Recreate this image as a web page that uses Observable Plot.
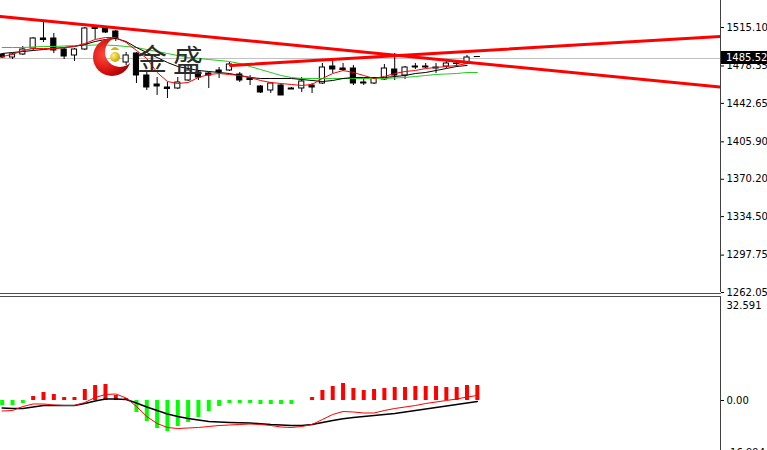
<!DOCTYPE html>
<html><head><meta charset="utf-8">
<script src="https://cdn.jsdelivr.net/npm/d3@7"></script>
<script src="https://cdn.jsdelivr.net/npm/@observablehq/plot@0.6"></script>
<style>
html,body{margin:0;padding:0;background:#fff;overflow:hidden;width:767px;height:450px}
#wrap{position:relative;width:767px;height:450px;overflow:hidden;background:#fff}
#wrap > *{position:absolute;left:0}
</style></head><body><div id="wrap"></div>
<script>
// ---- price panel data (candle index -1 .. 45) ----
const firstIndex = -1;
const candleOpen  = [1489.32,1486.45,1489.32,1495.05,1504.60,1504.60,1494.09,1488.36,1494.09,1515.58,1514.15,1511.28,1481.68,1490.27,1469.26,1460.67,1457.81,1456.85,1464.49,1472.13,1471.17,1474.04,1474.04,1470.22,1466.40,1458.76,1454.94,1459.72,1456.85,1456.85,1459.72,1461.62,1477.86,1475.95,1475.95,1462.58,1461.62,1465.44,1474.99,1469.26,1477.86,1477.86,1476.90,1477.86,1480.25,1480.72,1487.41];
const candleHigh  = [1490.27,1490.27,1496.96,1505.55,1519.87,1509.37,1495.05,1495.05,1515.10,1516.05,1515.10,1512.23,1491.23,1491.23,1472.13,1467.35,1462.58,1467.35,1478.81,1474.04,1472.13,1476.90,1481.68,1472.13,1469.26,1459.72,1462.58,1460.67,1457.81,1467.35,1461.62,1480.72,1483.59,1480.72,1478.81,1466.40,1467.35,1479.77,1490.27,1477.86,1480.72,1480.72,1480.72,1482.63,1482.63,1488.36,1487.41];
const candleLow   = [1485.50,1484.54,1488.36,1493.14,1500.78,1490.27,1484.54,1482.63,1493.14,1503.64,1509.37,1501.73,1478.81,1461.62,1454.94,1450.17,1447.30,1455.90,1463.53,1464.49,1456.85,1466.40,1473.08,1462.58,1459.72,1452.08,1452.08,1450.17,1455.90,1453.03,1452.08,1460.67,1471.17,1473.08,1459.72,1459.72,1460.67,1464.49,1464.49,1465.44,1474.99,1475.95,1471.17,1475.95,1476.90,1480.25,1487.41];
const candleClose = [1486.45,1489.32,1494.09,1504.60,1503.64,1493.14,1487.41,1494.09,1514.15,1513.67,1510.33,1504.60,1488.36,1469.26,1457.81,1458.76,1456.85,1462.58,1474.04,1467.35,1469.26,1473.08,1479.77,1464.49,1465.44,1453.03,1461.62,1450.17,1456.37,1463.53,1457.81,1476.90,1474.99,1474.99,1461.62,1462.10,1466.40,1475.95,1469.26,1476.90,1477.38,1477.38,1476.43,1480.72,1480.72,1486.45,1487.41];

// moving averages (start at index -1)
const maRed   = [1487.41,1489.32,1493.14,1495.05,1495.05,1495.05,1496.00,1496.96,1499.82,1503.64,1505.55,1505.55,1500.78,1493.14,1485.50,1472.13,1463.53,1461.62,1462.58,1467.35,1470.22,1471.17,1470.22,1469.26,1467.35,1464.49,1462.58,1461.62,1460.67,1459.72,1460.67,1466.40,1471.17,1474.04,1472.13,1469.26,1466.40,1468.31,1471.17,1473.08,1474.04,1475.95,1476.90,1477.86,1478.81,1480.72];
const maGreen = [1496.00,1496.00,1496.00,1496.48,1496.96,1496.96,1497.43,1497.91,1497.91,1498.39,1498.39,1497.91,1496.96,1496.00,1494.09,1492.18,1490.27,1488.36,1486.45,1485.50,1484.54,1483.59,1482.63,1480.72,1477.86,1474.99,1472.13,1469.26,1467.35,1466.40,1466.40,1466.40,1466.40,1466.40,1466.40,1466.40,1466.40,1466.40,1466.88,1467.35,1468.31,1469.26,1470.22,1470.70,1471.17,1472.13,1472.13];
const maBlack = [1490.27,1491.23,1492.18,1493.14,1494.09,1495.05,1496.00,1496.96,1498.87,1501.73,1503.64,1504.60,1501.73,1496.00,1491.23,1486.45,1481.68,1477.86,1475.95,1474.04,1473.08,1472.13,1471.17,1469.26,1467.35,1466.40,1466.40,1466.40,1466.40,1465.44,1464.49,1463.53,1464.49,1466.40,1467.35,1467.35,1467.35,1467.35,1468.31,1469.26,1471.17,1472.13,1474.04,1475.95,1477.86,1478.81];

// trend lines (index, price)
const trendDown = [{i:-1.16, p:1525.60}, {i:68.54, p:1458.28}];
const trendUp   = [{i:21.10, p:1478.81}, {i:68.54, p:1506.51}];

const bidPrice = 1485.52;
const priceTicks = [1515.10, 1478.35, 1442.65, 1405.90, 1370.20, 1334.50, 1297.75, 1262.05];

// ---- MACD panel data (index -1 .. 45) ----
const macdHist  = [-1.63,-1.63,-0.98,1.30,2.61,1.96,0.98,0.98,3.59,4.89,5.21,1.63,0.65,-3.91,-6.84,-9.13,-10.10,-8.47,-7.17,-5.54,-3.59,-1.96,-0.98,-0.98,-0.98,-1.30,-1.30,-1.30,-1.30,0,0.98,3.26,4.56,5.54,3.91,3.26,3.59,3.91,4.24,4.24,4.56,4.56,4.56,4.24,4.24,4.89,4.89];
const macdBlack = [-2.44,-2.61,-2.61,-2.12,-1.63,-1.63,-1.63,-1.63,-0.98,-0.16,0.49,0.49,0.33,-0.81,-2.12,-3.26,-4.40,-5.21,-5.87,-6.36,-6.84,-7.01,-7.17,-7.27,-7.33,-7.56,-7.82,-7.98,-8.15,-8.15,-7.82,-7.17,-6.52,-5.96,-5.54,-5.21,-4.89,-4.56,-4.24,-3.75,-3.26,-2.77,-2.28,-1.79,-1.30,-0.81,-0.33];
const macdRed   = [-3.42,-3.26,-1.96,-1.14,-1.14,-1.47,-1.63,-1.63,-0.65,0.98,1.96,2.12,0.81,-1.96,-5.21,-7.50,-8.80,-9.13,-8.96,-8.80,-8.47,-8.15,-7.98,-7.82,-7.66,-7.82,-8.15,-8.64,-8.80,-8.47,-7.82,-6.19,-4.56,-3.59,-3.75,-4.07,-4.07,-3.26,-2.61,-2.12,-1.63,-0.98,-0.49,0,0.49,1.14,1.63];
const macdTop = 32.591, macdBottom = -16.994;

// ---- layout ----
const W = 767, AXW = 47;
const xDomain = [-1.1617, 68.538];
const font = "'DejaVu Sans', sans-serif";

const candles = candleOpen.map((o, k) => ({i: k + firstIndex, o, h: candleHigh[k], l: candleLow[k], c: candleClose[k]}));
const series = (arr, start) => arr.map((v, k) => ({i: k + start, v}));

const wrap = document.getElementById("wrap");

const main = Plot.plot({
  width: W, height: 293,
  marginLeft: 0, marginRight: AXW, marginTop: 0, marginBottom: 1,
  style: {fontFamily: font, fontSize: "10px", color: "#000", background: "#fff", overflow: "visible"},
  x: {domain: xDomain, axis: null},
  y: {domain: [1262.05, 1540.88], label: null},
  marks: [
    Plot.ruleY([bidPrice], {stroke: "#c0c0c0"}),
    Plot.ruleX(candles, {x: "i", y1: "l", y2: "h", stroke: "#000"}),
    Plot.rect(candles, {x1: d => d.i - 0.25, x2: d => d.i + 0.25, y1: "o", y2: "c",
      fill: d => d.c > d.o ? "#ffffff" : "#000000", stroke: "#000"}),
    Plot.ruleY(candles.filter(d => Math.abs(d.c - d.o) < 1), {y: "c", x1: d => d.i - 0.3, x2: d => d.i + 0.3, stroke: "#000"}),
    Plot.line(series(maGreen, -1), {x: "i", y: "v", stroke: "#22cc22", strokeWidth: 1}),
    Plot.line(series(maBlack, -1), {x: "i", y: "v", stroke: "#000", strokeWidth: 1}),
    Plot.line(series(maRed, -1), {x: "i", y: "v", stroke: "#ff0000", strokeWidth: 1}),
    Plot.line(trendDown, {x: "i", y: "p", stroke: "#ff0000", strokeWidth: 3, clip: true}),
    Plot.line(trendUp, {x: "i", y: "p", stroke: "#ff0000", strokeWidth: 3, clip: true}),
    Plot.ruleX([xDomain[1]], {stroke: "#404040"}),
    Plot.axisY(priceTicks, {anchor: "right", label: null, tickSize: 3, tickPadding: 3, tickFormat: d => d.toFixed(2)})
  ]
});

// current price box
{
  const yb = main.scale("y").apply(bidPrice);
  const xb = W - AXW + 1;
  const s = d3.select(main);
  s.append("rect").attr("x", xb).attr("y", yb - 7).attr("width", AXW - 1).attr("height", 13).attr("fill", "#000");
  s.append("text").attr("x", xb + 5).attr("y", yb).attr("dy", "0.35em").attr("fill", "#fff")
    .attr("text-anchor", "start").attr("font-family", font).attr("font-size", 10).text(bidPrice.toFixed(2));
}

const sub = Plot.plot({
  width: W, height: 163,
  marginLeft: 0, marginRight: AXW, marginTop: 0, marginBottom: 0,
  style: {fontFamily: font, fontSize: "10px", color: "#000", background: "transparent", overflow: "visible"},
  x: {domain: xDomain, axis: null},
  y: {domain: [-19.555, 33.569], label: null},
  marks: [
    Plot.ruleX(series(macdHist, -1), {x: "i", y1: 0, y2: "v", stroke: d => d.v >= 0 ? "#ff0000" : "#00ff00", strokeWidth: 4}),
    Plot.line(series(macdBlack, -1), {x: "i", y: "v", stroke: "#000", strokeWidth: 1.5}),
    Plot.line(series(macdRed, -1), {x: "i", y: "v", stroke: "#ff0000", strokeWidth: 1}),
    Plot.ruleX([xDomain[1]], {stroke: "#404040"}),
    Plot.axisY([0, macdBottom], {anchor: "right", label: null, tickSize: 3, tickPadding: 3, tickFormat: d => d === 0 ? "0.00" : d.toFixed(3)}),
    Plot.axisY([macdTop], {anchor: "right", label: null, tickSize: 0, tickPadding: 6, dy: 5, tickFormat: d => d.toFixed(3)})
  ]
});

sub.style.top = "297px"; sub.style.zIndex = 1;
main.style.top = "0px"; main.style.zIndex = 2;
wrap.appendChild(sub);
wrap.appendChild(main);

const sep = document.createElement("div");
sep.style.cssText = `top:293px;width:${W - AXW + 1}px;height:2px;border-top:1px solid #505050;border-bottom:1px solid #505050;z-index:3`;
wrap.appendChild(sep);

// watermark logo
const logo = document.createElementNS("http://www.w3.org/2000/svg", "svg");
logo.setAttribute("width", 767); logo.setAttribute("height", 293);
logo.style.cssText = "top:0;z-index:4;pointer-events:none;overflow:visible";
logo.innerHTML = `
<defs>
  <radialGradient id="rg" cx="0.3" cy="0.45" r="0.75">
    <stop offset="0" stop-color="#ff4a3a"/><stop offset="0.6" stop-color="#d40f0f"/><stop offset="1" stop-color="#8e0000"/>
  </radialGradient>
  <radialGradient id="gg" cx="0.35" cy="0.35" r="0.7">
    <stop offset="0" stop-color="#fff27a"/><stop offset="1" stop-color="#c9a000"/>
  </radialGradient>
  <mask id="cm"><rect width="767" height="293" fill="white"/><circle cx="120" cy="52" r="15" fill="black"/></mask>
</defs>
<circle cx="112" cy="57" r="19" fill="url(#rg)" mask="url(#cm)"/>
<circle cx="115" cy="57" r="5" fill="url(#gg)"/>
<path d="M110.5,50 Q115,44 119.5,50 Z" fill="#d9b400"/>
<text x="152" y="59" dy="0.36em" text-anchor="middle" font-family="'Noto Sans CJK SC'" font-size="30" fill="#2b2b2b">金</text>
<text x="188" y="60" dy="0.36em" text-anchor="middle" font-family="'Noto Sans CJK SC'" font-size="30" fill="#2b2b2b">盛</text>`;
wrap.appendChild(logo);
</script>
</body></html>
